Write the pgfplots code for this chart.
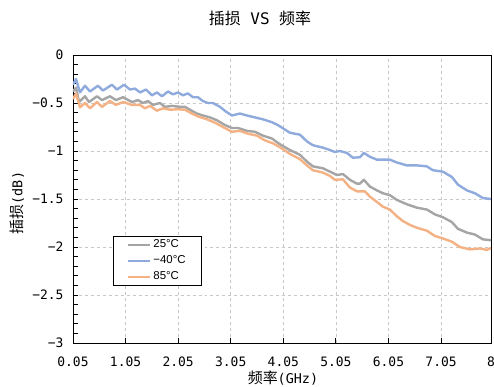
\documentclass[border=0pt]{standalone}
\usepackage{fontspec}
\usepackage{pgfplots}
\pgfplotsset{compat=1.18}
\setmainfont{Noto Sans CJK SC}
\newfontfamily\monofont{DejaVu Sans Mono}
\newfontfamily\arialfont{Liberation Sans}
\definecolor{cgray}{HTML}{A5A5A5}
\definecolor{cblue}{HTML}{8FAADC}
\definecolor{corange}{HTML}{F4B183}
\definecolor{cgrid}{HTML}{C8C8C8}
\begin{document}
\begin{tikzpicture}
\begin{axis}[
  scale only axis, width=418bp, height=288bp,
  xmin=0.05, xmax=8, ymin=-3, ymax=0,
  axis line style={black, line width=0.9pt},
  xtick={0.05,1.05,2.05,3.05,4.05,5.05,6.05,7.05,8},
  xticklabels={0.05,1.05,2.05,3.05,4.05,5.05,6.05,7.05,8},
  ytick={-3,-2.5,-2,-1.5,-1,-0.5,0},
  yticklabels={−3,−2.5,−2,−1.5,−1,−0.5,0},
  minor y tick num=4,
  tick pos=left, tick align=inside,
  major tick length=5bp, minor tick length=5bp,
  tick style={black, line width=0.8pt},
  ticklabel style={font=\monofont\fontsize{13}{15}\selectfont},
  yticklabel style={xshift=-6bp},
  xticklabel style={yshift=-10bp},
  grid=major,
  major grid style={cgrid, dashed, line width=0.6pt},
  legend style={at={(rel axis cs:0.0957,0.373)}, anchor=north west,
    draw=black, line width=0.8pt, inner xsep=14bp, inner ysep=2bp,
    font=\arialfont\fontsize{11.5}{13}\selectfont, row sep=2.5bp},
  legend cell align=left,
  legend image code/.code={\draw[#1, line width=2bp] (0bp,0bp) -- (22bp,0bp);},
  every axis plot/.append style={line width=2.4bp, line join=round},
]
\addplot[cgray] coordinates {
(0.05,-0.38)(0.107,-0.34)(0.164,-0.49)(0.278,-0.43)(0.354,-0.49)(0.506,-0.43)
(0.601,-0.47)(0.753,-0.43)(0.867,-0.47)(1.001,-0.44)(1.172,-0.49)(1.286,-0.47)
(1.381,-0.50)(1.476,-0.48)(1.571,-0.52)(1.704,-0.50)(1.799,-0.54)(1.932,-0.53)
(2.084,-0.54)(2.179,-0.54)(2.274,-0.57)(2.407,-0.61)(2.521,-0.63)(2.655,-0.65)
(2.788,-0.68)(2.940,-0.73)(3.073,-0.76)(3.187,-0.76)(3.358,-0.79)(3.510,-0.80)
(3.662,-0.84)(3.833,-0.87)(3.985,-0.93)(4.175,-0.99)(4.366,-1.04)(4.499,-1.11)
(4.613,-1.16)(4.803,-1.18)(4.936,-1.215)(5.069,-1.25)(5.183,-1.24)(5.316,-1.30)
(5.449,-1.34)(5.506,-1.34)(5.582,-1.30)(5.696,-1.37)(5.829,-1.41)(5.944,-1.44)
(6.077,-1.46)(6.210,-1.51)(6.400,-1.555)(6.590,-1.59)(6.780,-1.61)(6.932,-1.66)
(7.084,-1.69)(7.255,-1.74)(7.370,-1.81)(7.541,-1.85)(7.693,-1.87)(7.845,-1.92)
(8.0,-1.93)};
\addlegendentry{25°C}
\addplot[cblue] coordinates {
(0.05,-0.31)(0.107,-0.25)(0.183,-0.39)(0.278,-0.32)(0.373,-0.38)(0.525,-0.32)
(0.620,-0.37)(0.791,-0.31)(0.886,-0.36)(1.020,-0.31)(1.134,-0.36)(1.229,-0.35)
(1.324,-0.39)(1.438,-0.36)(1.552,-0.42)(1.647,-0.39)(1.742,-0.43)(1.856,-0.38)
(1.951,-0.41)(2.046,-0.39)(2.141,-0.42)(2.236,-0.40)(2.331,-0.44)(2.426,-0.44)
(2.521,-0.48)(2.617,-0.50)(2.712,-0.50)(2.845,-0.54)(2.959,-0.59)(3.073,-0.63)
(3.225,-0.61)(3.358,-0.63)(3.510,-0.65)(3.662,-0.67)(3.833,-0.70)(3.947,-0.73)
(4.175,-0.81)(4.366,-0.83)(4.499,-0.90)(4.613,-0.94)(4.803,-0.965)(4.936,-0.99)
(5.031,-1.01)(5.126,-1.00)(5.259,-1.02)(5.373,-1.07)(5.506,-1.065)(5.582,-1.02)
(5.696,-1.06)(5.829,-1.09)(6.077,-1.09)(6.210,-1.12)(6.400,-1.15)(6.590,-1.15)
(6.780,-1.16)(6.894,-1.20)(7.084,-1.215)(7.255,-1.27)(7.370,-1.35)(7.541,-1.41)
(7.693,-1.44)(7.845,-1.49)(8.0,-1.50)};
\addlegendentry{−40°C}
\addplot[corange] coordinates {
(0.05,-0.46)(0.107,-0.40)(0.183,-0.545)(0.278,-0.50)(0.373,-0.555)(0.506,-0.49)
(0.601,-0.54)(0.753,-0.48)(0.867,-0.52)(1.001,-0.49)(1.172,-0.52)(1.324,-0.52)
(1.419,-0.555)(1.514,-0.53)(1.647,-0.58)(1.761,-0.555)(1.894,-0.57)(2.046,-0.565)
(2.179,-0.57)(2.312,-0.61)(2.426,-0.64)(2.598,-0.67)(2.750,-0.705)(2.902,-0.75)
(3.073,-0.80)(3.225,-0.79)(3.377,-0.82)(3.548,-0.84)(3.700,-0.89)(3.852,-0.92)
(3.985,-0.96)(4.175,-1.03)(4.366,-1.085)(4.499,-1.15)(4.613,-1.20)(4.803,-1.225)
(4.936,-1.26)(5.031,-1.30)(5.183,-1.295)(5.316,-1.38)(5.449,-1.42)(5.601,-1.42)
(5.696,-1.475)(5.829,-1.53)(5.944,-1.58)(6.077,-1.61)(6.210,-1.68)(6.324,-1.73)
(6.457,-1.77)(6.590,-1.80)(6.780,-1.83)(6.932,-1.885)(7.084,-1.91)(7.255,-1.945)
(7.408,-2.00)(7.598,-2.025)(7.788,-2.015)(7.921,-2.03)(8.0,-2.01)};
\addlegendentry{85°C}
\end{axis}
\node[font=\fontsize{16}{19}\selectfont] at (187bp,325bp) {插损\hspace{0.6em}{\monofont VS}\hspace{0.6em}频率};
\node[font=\fontsize{15}{17}\selectfont] at (210bp,-35bp) {频率{\monofont\fontsize{13.5}{15}\selectfont(GHz)}};
\node[font=\fontsize{15}{17}\selectfont, rotate=90] at (-56bp,140bp) {插损{\monofont\fontsize{13.5}{15}\selectfont(dB)}};
\pgfresetboundingbox
\path[use as bounding box] (-73bp,-44bp) rectangle (421bp,343bp);
\end{tikzpicture}
\end{document}
